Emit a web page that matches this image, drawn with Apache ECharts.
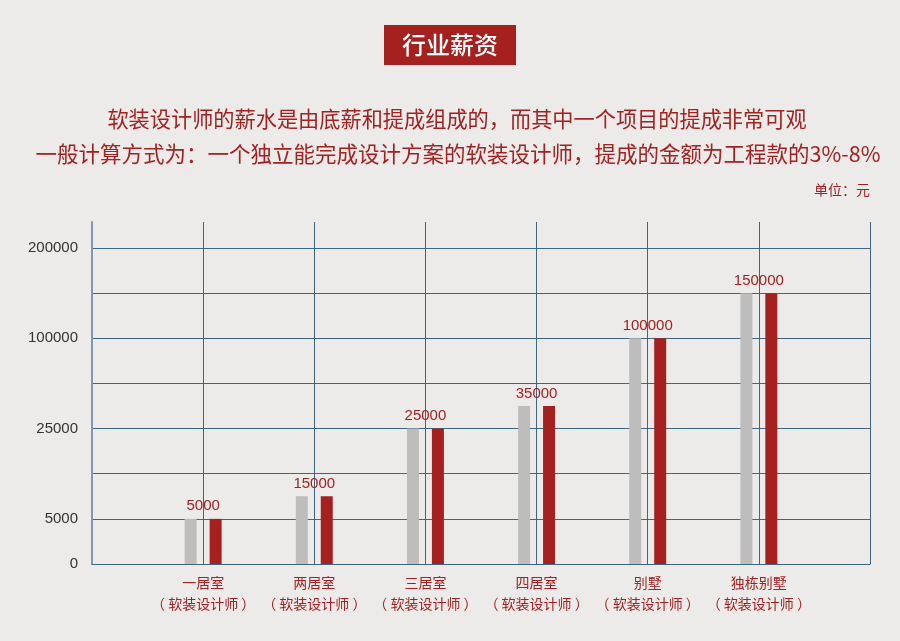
<!DOCTYPE html>
<html>
<head>
<meta charset="utf-8">
<script src="https://cdn.jsdelivr.net/npm/echarts@6/dist/echarts.min.js"></script>
<style>
html,body{margin:0;padding:0;background:#edebe9;}
#c{width:900px;height:641px;}
</style>
</head>
<body>
<div id="c"></div>
<script>
// Categories (first and last are empty edge slots of the grid)
const categories = ['', '一居室', '两居室', '三居室', '四居室', '别墅', '独栋别墅', ''];
const subLabel = '（ 软装设计师 ）';
// Salary values shown as labels
const salaryValues = [null, 5000, 15000, 25000, 35000, 100000, 150000, null];
// Bar heights, in grid-line units of the y axis
const barLevels = [null, 1, 1.5, 3, 3.5, 5, 6, null];
// Y-axis tick labels, one per grid line from the bottom
const yTickLabels = ['0', '5000', '', '25000', '', '100000', '', '200000'];

const titleText = '行业薪资';
const line1 = '软装设计师的薪水是由底薪和提成组成的，而其中一个项目的提成非常可观';
const line2 = '一般计算方式为：一个独立能完成设计方案的软装设计师，提成的金额为工程款的3%-8%';
const unitText = '单位：元';

const RED = '#a5211f';
const GRAY = '#bdbdbd';
const GRID = '#3d6585';
const CJK = '"Noto Sans CJK SC", "Noto Sans", sans-serif';
const LAT = '"Liberation Sans", Arial, sans-serif';

const chart = echarts.init(document.getElementById('c'));
chart.setOption({
  backgroundColor: '#edebe9',
  animation: false,
  graphic: [
    { type: 'rect', shape: { x: 384, y: 25, width: 132, height: 40 }, style: { fill: RED } },
    { type: 'text', x: 450, y: 45, style: { text: titleText, fill: '#ffffff', fontSize: 24, fontWeight: 500, fontFamily: CJK, align: 'center', verticalAlign: 'middle' } },
    { type: 'text', x: 457, y: 119, style: { text: line1, fill: RED, fontSize: 21.2, fontFamily: CJK, align: 'center', verticalAlign: 'middle' } },
    { type: 'text', x: 458, y: 154, style: { text: line2, fill: RED, fontSize: 21.5, fontFamily: CJK, align: 'center', verticalAlign: 'middle' } },
    { type: 'text', x: 870, y: 190, style: { text: unitText, fill: RED, fontSize: 14, fontFamily: CJK, align: 'right', verticalAlign: 'middle' } }
  ],
  grid: [
    { left: 92, right: 30, top: 222, bottom: 77 },
    { left: 92, right: 30, top: 248, bottom: 77 }
  ],
  xAxis: [
    {
      type: 'category', gridIndex: 0, data: categories, boundaryGap: false,
      axisLine: { show: true, lineStyle: { color: GRID, width: 1 } },
      axisTick: { show: false },
      axisLabel: {
        margin: 8, color: RED, fontSize: 14, fontFamily: CJK, lineHeight: 21,
        interval: 0,
        formatter: v => v ? v + '\n' + subLabel : ''
      },
      splitLine: { show: true, interval: (i) => i !== 0, lineStyle: { color: GRID, width: 1 } }
    },
    {
      type: 'category', gridIndex: 1, data: categories, boundaryGap: false,
      axisLine: { show: false }, axisTick: { show: false }, axisLabel: { show: false },
      splitLine: { show: false }
    }
  ],
  yAxis: [
    {
      type: 'value', gridIndex: 0, min: 0, max: 1,
      axisLine: { show: true, lineStyle: { color: '#7f9ab0', width: 2 } },
      axisTick: { show: false }, axisLabel: { show: false }, splitLine: { show: false }
    },
    {
      type: 'value', gridIndex: 1, min: 0, max: 7, interval: 1,
      axisLine: { show: false }, axisTick: { show: false },
      axisLabel: { margin: 14, color: '#333333', fontSize: 15, fontFamily: LAT, formatter: v => yTickLabels[Math.round(v)] || '' },
      splitLine: { show: true, lineStyle: { color: GRID, width: 1 } }
    }
  ],
  series: [
    {
      type: 'bar', xAxisIndex: 1, yAxisIndex: 1, data: barLevels,
      barWidth: 12, barGap: '108%', itemStyle: { color: GRAY }, z: 3
    },
    {
      type: 'bar', xAxisIndex: 1, yAxisIndex: 1, data: barLevels,
      barWidth: 12, barGap: '108%', itemStyle: { color: RED }, z: 3
    },
    {
      type: 'scatter', xAxisIndex: 1, yAxisIndex: 1, data: barLevels,
      symbolSize: 0, z: 4, itemStyle: { color: RED, opacity: 1 },
      label: {
        show: true, position: 'top', distance: 5, color: RED, fontSize: 15, fontFamily: LAT,
        formatter: p => salaryValues[p.dataIndex] == null ? '' : String(salaryValues[p.dataIndex])
      }
    }
  ]
});
</script>
</body>
</html>
